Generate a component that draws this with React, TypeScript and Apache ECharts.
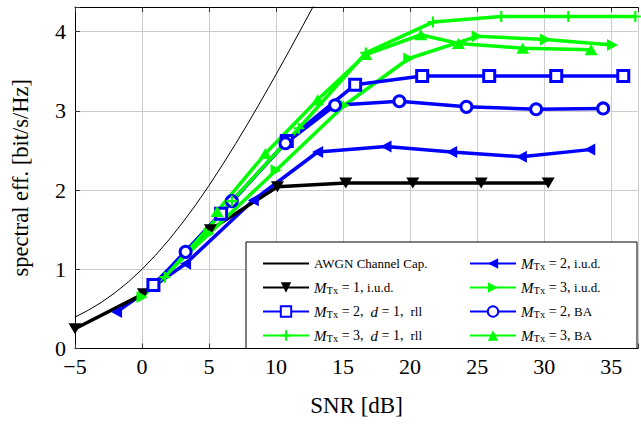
import React, { useEffect, useRef } from "react";
import * as echarts from "echarts";

// AWGN channel capacity curve
const awgnX = [-5, -4, -3, -2, -1, 0, 1, 2, 3, 4, 5, 6, 7, 8, 9, 10, 11, 12, 13];
const awgnY = [0.396, 0.484, 0.586, 0.706, 0.843, 1.0, 1.176, 1.37, 1.583, 1.812, 2.057, 2.317, 2.588, 2.87, 3.161, 3.459, 3.764, 4.075, 4.389];

const m1iudX = [-5, 0.1, 5.1, 10.1, 15.2, 20.2, 25.3, 30.3];
const m1iudY = [0.25, 0.69, 1.5, 2.04, 2.09, 2.09, 2.09, 2.09];
const m2iudX = [-1.9, 3.25, 8.3, 13.1, 18.2, 23.1, 28.3, 33.4];
const m2iudY = [0.46, 1.07, 1.87, 2.48, 2.55, 2.48, 2.42, 2.51];
const m3iudX = [0, 5, 10, 15.1, 19.9, 25, 30.1, 35.1];
const m3iudY = [0.65, 1.45, 2.25, 3.07, 3.66, 3.94, 3.9, 3.83];
const m2rllX = [0.85, 5.9, 10.8, 15.9, 20.9, 25.9, 30.9, 35.9];
const m2rllY = [0.8, 1.7, 2.62, 3.33, 3.44, 3.44, 3.44, 3.44];
const m3rllX = [1.7, 6.7, 11.7, 16.7, 21.7, 26.8, 31.8, 36.8];
const m3rllY = [0.9, 1.86, 2.78, 3.73, 4.12, 4.19, 4.19, 4.19];
const m2baX = [3.25, 6.7, 10.7, 14.4, 19.2, 24.2, 29.4, 34.4];
const m2baY = [1.22, 1.86, 2.59, 3.07, 3.12, 3.05, 3.02, 3.03];
const m3baX = [5.6, 9.2, 13.1, 16.7, 20.8, 23.6, 28.4, 33.5];
const m3baY = [1.73, 2.46, 3.14, 3.71, 3.96, 3.85, 3.79, 3.77];

const xTicks = [-5, 0, 5, 10, 15, 20, 25, 30, 35];
const yTicks = [0, 1, 2, 3, 4];

const BLUE = "#0000ff";
const GREEN = "#00ff00";
const BLACK = "#000000";
const FONT = "'Liberation Serif', 'DejaVu Serif', serif";
const PLUS = "path://M4,0H6V4H10V6H6V10H4V6H0V4H4Z";

const labels: Record<string, string> = {
  awgn: "{a|AWGN Channel Cap.}",
  m1iud: "{m|M}{s|Tx}{t| = 1, }{r|i.u.d.}",
  m2rll: "{m|M}{s|Tx}{t| = 2,  }{m|d}{t| = 1,  }{r|rll}",
  m3rll: "{m|M}{s|Tx}{t| = 3,  }{m|d}{t| = 1,  }{r|rll}",
  m2iud: "{m|M}{s|Tx}{t| = 2, }{r|i.u.d.}",
  m3iud: "{m|M}{s|Tx}{t| = 3, }{r|i.u.d.}",
  m2ba: "{m|M}{s|Tx}{t| = 2, }{r|BA}",
  m3ba: "{m|M}{s|Tx}{t| = 3, }{r|BA}",
};

function zip(xs: number[], ys: number[]) {
  return xs.map((x, i) => [x, ys[i]]);
}

function mk(
  name: string,
  xs: number[],
  ys: number[],
  color: string,
  symbol: string,
  size: number | number[],
  rotate: number,
  hollow: boolean
) {
  return {
    type: "line",
    name,
    data: zip(xs, ys),
    symbol,
    symbolSize: size,
    symbolRotate: rotate,
    showAllSymbol: true,
    lineStyle: { color, width: 3.5 },
    itemStyle: hollow
      ? { color: "#ffffff", borderColor: color, borderWidth: 3 }
      : { color, borderWidth: 0 },
    emphasis: { disabled: true },
    z: 2,
  };
}

export default function App() {
  const ref = useRef<HTMLDivElement>(null);
  useEffect(() => {
    if (!ref.current) return;
    const chart = echarts.init(ref.current, undefined, { renderer: "svg" });
    const legendBase = {
      orient: "vertical",
      itemWidth: 46,
      itemHeight: 13,
      itemGap: 7,
      top: 250,
      selectedMode: false,
      z: 5,
      formatter: (n: string) => labels[n],
      textStyle: {
        color: "#000",
        fontFamily: FONT,
        fontSize: 13,
        lineHeight: 17,
        rich: {
          a: { fontFamily: FONT, fontSize: 13, lineHeight: 17, color: "#000" },
          m: { fontFamily: FONT, fontSize: 15, fontStyle: "italic", lineHeight: 17, color: "#000" },
          s: { fontFamily: FONT, fontSize: 10.5, lineHeight: 10, verticalAlign: "bottom", color: "#000" },
          t: { fontFamily: FONT, fontSize: 14, lineHeight: 17, color: "#000" },
          r: { fontFamily: FONT, fontSize: 13, lineHeight: 17, color: "#000" },
        },
      },
    };
    const option: any = {
      animation: false,
      backgroundColor: "#ffffff",
      grid: { left: 75, top: 7, width: 567, height: 341.5, containLabel: false },
      xAxis: [
        {
          type: "value",
          min: -5,
          max: 37,
          interval: 5,
          name: "SNR [dB]",
          nameLocation: "middle",
          nameGap: 45,
          nameTextStyle: { fontFamily: FONT, fontSize: 23, color: "#000" },
          axisLine: { show: true, onZero: false, lineStyle: { color: "#000", width: 1 } },
          axisTick: { show: true, inside: true, length: 5, lineStyle: { color: "#333" } },
          axisLabel: {
            margin: 7,
            fontFamily: FONT,
            fontSize: 22,
            color: "#000",
            formatter: (v: number) => (xTicks.includes(v) ? String(v).replace("-", "\u2212") : ""),
          },
          splitLine: { show: true, lineStyle: { color: "#cccccc", width: 1 } },
        },
        {
          type: "value",
          position: "top",
          min: -5,
          max: 37,
          interval: 5,
          axisLine: { show: true, onZero: false, lineStyle: { color: "#000", width: 1 } },
          axisTick: { show: true, inside: true, length: 5, lineStyle: { color: "#333" } },
          axisLabel: { show: false },
          splitLine: { show: false },
        },
      ],
      yAxis: [
        {
          type: "value",
          min: 0,
          max: 4.31,
          interval: 1,
          name: "spectral eff. [bit/s/Hz]",
          nameLocation: "middle",
          nameGap: 43,
          nameTextStyle: { fontFamily: FONT, fontSize: 22.5, color: "#000" },
          axisLine: { show: true, onZero: false, lineStyle: { color: "#000", width: 1 } },
          axisTick: { show: true, inside: true, length: 5, lineStyle: { color: "#333" } },
          axisLabel: {
            margin: 9,
            fontFamily: FONT,
            fontSize: 22,
            color: "#000",
            formatter: (v: number) => (yTicks.includes(v) ? String(v) : ""),
          },
          splitLine: { show: true, lineStyle: { color: "#cccccc", width: 1 } },
        },
      ],
      legend: [
        {
          ...legendBase,
          left: 257,
          data: [{ name: "awgn", itemStyle: { opacity: 0 } }, "m1iud", "m2rll", "m3rll"],
        },
        { ...legendBase, left: 464, data: ["m2iud", "m3iud", "m2ba", "m3ba"] },
      ],
      graphic: {
        elements: [
          {
            type: "rect",
            z: 3,
            shape: { x: 246, y: 242, width: 391, height: 106.5 },
            style: { fill: "#ffffff", stroke: "#000000", lineWidth: 1 },
          },
        ],
      },
      series: [
        {
          type: "line",
          name: "awgn",
          data: zip(awgnX, awgnY),
          symbol: "none",
          lineStyle: { color: BLACK, width: 1 },
          itemStyle: { color: BLACK },
          emphasis: { disabled: true },
          z: 2,
        },
        mk("m2iud", m2iudX, m2iudY, BLUE, "triangle", [12, 11], 90, false),
        mk("m1iud", m1iudX, m1iudY, BLACK, "triangle", [13, 11], 180, false),
        mk("m3iud", m3iudX, m3iudY, GREEN, "triangle", [12, 11], -90, false),
        mk("m2rll", m2rllX, m2rllY, BLUE, "rect", 11, 0, true),
        mk("m2ba", m2baX, m2baY, BLUE, "circle", 11, 0, true),
        mk("m3rll", m3rllX, m3rllY, GREEN, PLUS, 11, 0, false),
        mk("m3ba", m3baX, m3baY, GREEN, "triangle", [13, 11], 0, false),
      ],
    };
    chart.setOption(option);
    return () => chart.dispose();
  }, []);
  return (
    <div
      ref={ref}
      style={{ position: "fixed", left: 0, top: 0, width: 641, height: 424, background: "#fff" }}
    />
  );
}
